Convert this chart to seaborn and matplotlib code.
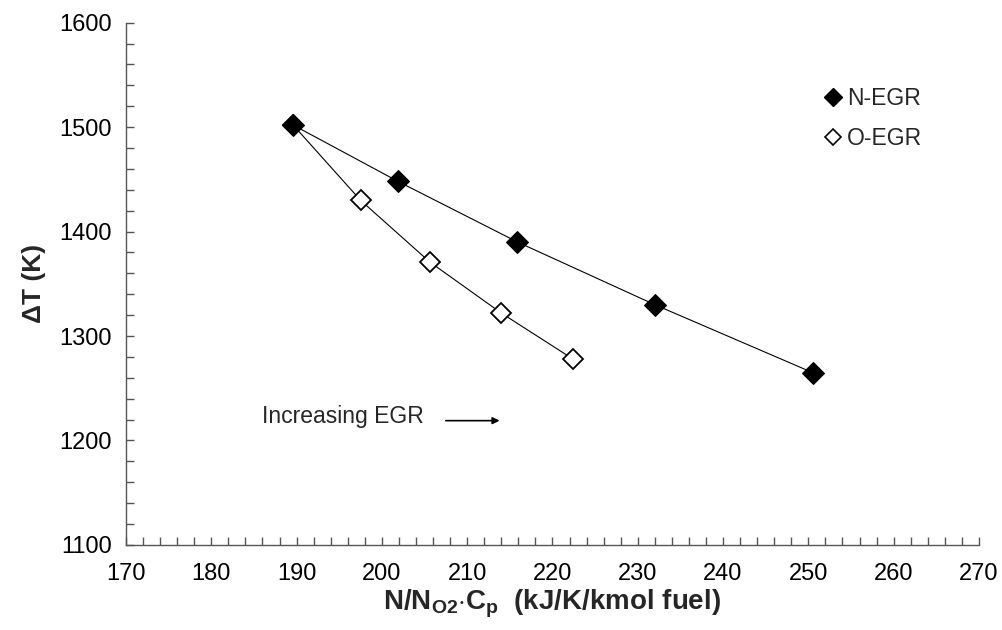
import matplotlib
matplotlib.use("Agg")
import matplotlib.pyplot as plt
from matplotlib.ticker import MultipleLocator
from matplotlib.lines import Line2D
import seaborn as sns
import pandas as pd

# Heat capacity term N/N_O2*Cp and flame temperature rise for both EGR types
n_egr_x = [189.6, 201.9, 215.9, 232.0, 250.5]
n_egr_dt = [1502, 1448, 1390, 1330, 1265]
o_egr_x = [189.6, 197.5, 205.6, 214.0, 222.4]
o_egr_dt = [1502, 1430, 1371, 1322, 1278]

x_ticks = [170, 180, 190, 200, 210, 220, 230, 240, 250, 260, 270]
y_ticks = [1100, 1200, 1300, 1400, 1500, 1600]

sns.set_theme(style="white")
plt.rcParams["font.family"] = ["Liberation Sans", "DejaVu Sans"]
plt.rcParams["mathtext.fontset"] = "custom"
plt.rcParams["mathtext.rm"] = "Liberation Sans:bold"
plt.rcParams["mathtext.bf"] = "Liberation Sans:bold"
plt.rcParams["mathtext.it"] = "Liberation Sans:bold"

fig = plt.figure(figsize=(10.03, 6.30), dpi=100)
ax = fig.add_axes([0.1256, 0.135, 0.976 - 0.1256, 0.964 - 0.135])

o_df = pd.DataFrame({"x": o_egr_x, "dt": o_egr_dt})
n_df = pd.DataFrame({"x": n_egr_x, "dt": n_egr_dt})

sns.lineplot(data=o_df, x="x", y="dt", ax=ax, sort=False, color="black",
             linewidth=0.8, marker="D", markersize=10, markerfacecolor="white",
             markeredgecolor="black", markeredgewidth=1.3, zorder=2)
sns.lineplot(data=n_df, x="x", y="dt", ax=ax, sort=False, color="black",
             linewidth=0.8, marker="D", markersize=11.5, markerfacecolor="black",
             markeredgecolor="black", zorder=3)

ax.set_xlim(170, 270)
ax.set_ylim(1100, 1600)
ax.set_xticks(x_ticks)
ax.set_yticks(y_ticks)
ax.xaxis.set_minor_locator(MultipleLocator(2))
ax.yaxis.set_minor_locator(MultipleLocator(20))

axis_col = "#555555"
for side in ["top", "right"]:
    ax.spines[side].set_visible(False)
for side in ["left", "bottom"]:
    ax.spines[side].set_color(axis_col)
    ax.spines[side].set_linewidth(1.0)

ax.tick_params(axis="both", which="both", direction="in", color=axis_col,
               width=1.0, length=6, labelsize=17, labelcolor="black",
               bottom=True, left=True, top=False, right=False)
ax.tick_params(axis="x", which="major", pad=13)
ax.tick_params(axis="y", which="major", pad=10)

ax.set_xlabel(r"N/N$_{\mathbf{O2}}$$\cdot$C$_{\mathbf{p}}$  (kJ/K/kmol fuel)",
              fontsize=20, fontweight="bold", labelpad=2)
ax.set_ylabel("ΔT (K)", fontsize=19, fontweight="bold", labelpad=10)

ax.text(186.0, 1223, "Increasing EGR", fontsize=16.5, va="center", ha="left")
ax.annotate("", xy=(213.8, 1219), xytext=(207.5, 1219),
            arrowprops=dict(arrowstyle="-|>", color="black", lw=1.2,
                            mutation_scale=10, shrinkA=0, shrinkB=0))

handles = [
    Line2D([], [], linestyle="none", marker="D", markersize=9,
           markerfacecolor="black", markeredgecolor="black"),
    Line2D([], [], linestyle="none", marker="D", markersize=8,
           markerfacecolor="white", markeredgecolor="black", markeredgewidth=1.2),
]
ax.legend(handles, ["N-EGR", "O-EGR"], loc="upper left",
          bbox_to_anchor=(0.797, 0.916), frameon=False, fontsize=16.5,
          handlelength=0.6, handletextpad=0.3, labelspacing=0.75)

fig.savefig("out.png", dpi=100, facecolor="white")
